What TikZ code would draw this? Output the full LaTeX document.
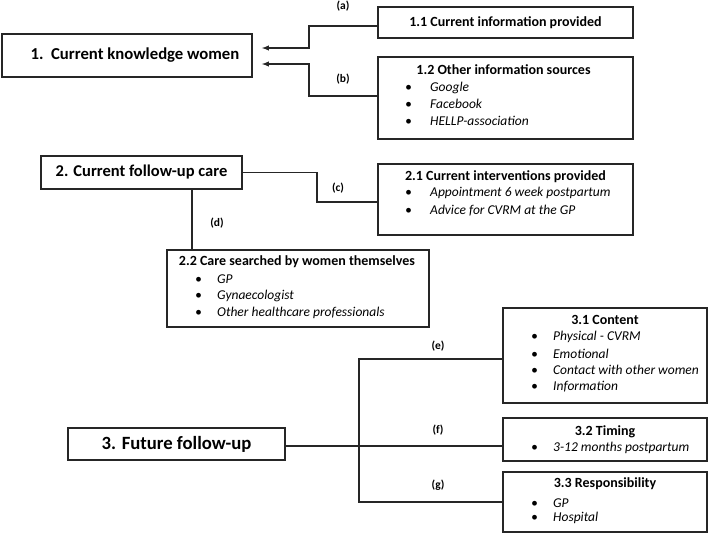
\documentclass[tikz,border=0pt]{standalone}
\usepackage{fontspec}
\setmainfont{Carlito}
\usepackage{tikz}
\usetikzlibrary{arrows,%
                positioning}

\begin{document}
\begin{tikzpicture}[x=1pt,y=-1pt,
  box/.style={draw=black!85,line width=1.8pt,inner sep=0pt},
  head/.style={font=\bfseries\fontsize{14}{16}\selectfont,inner sep=0pt},
  item/.style={anchor=west,inner sep=0pt,font=\itshape\fontsize{13.5}{15}\selectfont,
               execute at begin node={\makebox[#1][l]{\textbullet}}},
  item/.default=22pt,
  tag/.style={font=\bfseries\fontsize{11.5}{13}\selectfont,inner sep=0pt},
  link/.style={draw=black!85,line width=1.4pt},
  arr/.style={link,-latex,shorten >=9pt}]
\useasboundingbox (0,0) rectangle (709,536);

% main themes
\node[box,minimum width=250pt,minimum height=43pt,font=\bfseries\fontsize{16.7}{19}\selectfont]
  (n1) at (127,55.5) {\hspace*{16pt}1.\ \ Current knowledge women};
\node[box,minimum width=201pt,minimum height=33pt,font=\bfseries\fontsize{16.5}{18}\selectfont]
  (n2) at (141.5,172.5) {2. Current follow-up care};
\node[box,minimum width=217pt,minimum height=32pt,font=\bfseries\fontsize{18.7}{21}\selectfont]
  (n3) at (176.5,444) {3. Future follow-up};

% sub themes 1
\node[box,minimum width=255pt,minimum height=31pt,font=\bfseries\fontsize{14}{16}\selectfont]
  (n11) at (505.5,22.5) {1.1 Current information provided};
\node[box,minimum width=255pt,minimum height=82pt] (n12) at (505.5,98) {};
\node[head] (t12) at (503.5,70) {1.2 Other information sources};
\node[item=25pt] (i12a) at (405,88) {Google};
\node[item=25pt] (i12b) at (405,104) {Facebook};
\node[item=25pt] (i12c) at (405,121) {HELLP-association};

% sub themes 2
\node[box,minimum width=255pt,minimum height=71pt] (n21) at (505.5,199.5) {};
\node[head] (t21) at (505.5,177) {2.1 Current interventions provided};
\node[item=25pt] (i21a) at (405,193) {Appointment 6 week postpartum};
\node[item=25pt] (i21b) at (405,211) {Advice for CVRM at the GP};

\node[box,minimum width=262pt,minimum height=77pt] (n22) at (298,288.5) {};
\node[head] (t22) at (297,262) {2.2 Care searched by women themselves};
\node[item] (i22a) at (195,279) {GP};
\node[item] (i22b) at (195,296) {Gynaecologist};
\node[item] (i22c) at (195,313) {Other healthcare professionals};

% sub themes 3
\node[box,minimum width=204pt,minimum height=95pt] (n31) at (605,355.5) {};
\node[head] (t31) at (605,320) {3.1 Content};
\node[item] (i31a) at (531,337) {Physical - CVRM};
\node[item] (i31b) at (531,354) {Emotional};
\node[item] (i31c) at (531,370) {Contact with other women};
\node[item] (i31d) at (531,387) {Information};

\node[box,minimum width=204pt,minimum height=43pt] (n32) at (605,439.5) {};
\node[head] (t32) at (605,432) {3.2 Timing};
\node[item] (i32a) at (531,448) {3-12 months postpartum};

\node[box,minimum width=204pt,minimum height=60pt] (n33) at (605,502) {};
\node[head] (t33) at (605,484) {3.3 Responsibility};
\node[item] (i33a) at (531,503) {GP};
\node[item] (i33b) at (531,518) {Hospital};

% connectors
\draw[arr] ([yshift=-3.5pt]n11.west) -- ++(-68,0) |- ([yshift=7.5pt]n1.east);
\draw[arr] ([yshift=2pt]n12.west) -- ++(-68,0) |- ([yshift=-8.5pt]n1.east);
\draw[link] (n2.east) -- ++(74,0) |- ([yshift=-2.5pt]n21.west);
\draw[link] ([xshift=50.5pt]n2.south) -- ([xshift=50.5pt]n2.south |- n22.north);

\coordinate (fork) at (359,446);
\draw[link] ([yshift=-2pt]n3.east) -- ([yshift=-2pt]n3.east -| n32.west);
\draw[link] ([yshift=-3.5pt]n31.west) -| (fork) |- (n33.west);

% labels
\node[tag] (la) at (343,6) {(a)};
\node[tag] (lb) at (343,79) {(b)};
\node[tag] (lc) at (338,188) {(c)};
\node[tag] (ld) at (217,223) {(d)};
\node[tag] (le) at (438,346) {(e)};
\node[tag] (lf) at (438,430) {(f)};
\node[tag] (lg) at (438,485) {(g)};

\end{tikzpicture}
\end{document}
